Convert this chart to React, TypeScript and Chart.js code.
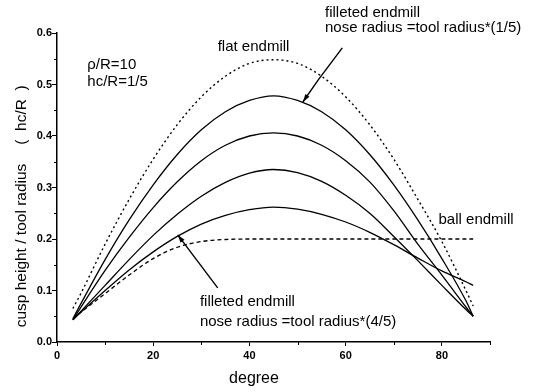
import React, { useEffect, useRef } from 'react';
import { Chart, registerables } from 'chart.js';

Chart.register(...registerables);

// ---- data ----
const degrees = [3.3, 5, 10, 15, 20, 25, 30, 35, 40, 45, 50, 55, 60, 65, 70, 75, 80, 85, 86.5];
const flatEndmill = [0.065, 0.095, 0.19, 0.277, 0.355, 0.422, 0.476, 0.516, 0.541, 0.548, 0.541, 0.516, 0.476, 0.422, 0.355, 0.277, 0.195, 0.1, 0.07];
const filleted1of5 = [0.045, 0.075, 0.16, 0.237, 0.305, 0.364, 0.412, 0.447, 0.469, 0.478, 0.469, 0.447, 0.412, 0.364, 0.305, 0.237, 0.162, 0.08, 0.05];
const filleted2of5 = [0.043, 0.068, 0.139, 0.203, 0.261, 0.311, 0.352, 0.382, 0.4, 0.406, 0.4, 0.382, 0.352, 0.311, 0.255, 0.19, 0.13, 0.068, 0.05];
const filleted3of5 = [0.043, 0.06, 0.11, 0.16, 0.207, 0.248, 0.283, 0.31, 0.328, 0.335, 0.329, 0.312, 0.285, 0.25, 0.205, 0.158, 0.11, 0.063, 0.05];
const filleted4of5 = [0.043, 0.058, 0.1, 0.14, 0.175, 0.205, 0.229, 0.246, 0.257, 0.262, 0.258, 0.248, 0.233, 0.213, 0.189, 0.163, 0.138, 0.117, 0.11];
const ballEndmill = [0.045, 0.058, 0.094, 0.13, 0.162, 0.184, 0.195, 0.199, 0.2, 0.2, 0.2, 0.2, 0.2, 0.2, 0.2, 0.2, 0.2, 0.2, 0.2];

const xTicks = [0, 20, 40, 60, 80];
const yTicks = [0, 0.1, 0.2, 0.3, 0.4, 0.5, 0.6];
const xMinorTicks = [10, 30, 50, 70, 90];
const yMinorTicks = [0.05, 0.15, 0.25, 0.35, 0.45, 0.55];

const xTitle = 'degree';
const yTitleMain = 'cusp height / tool radius';
const yTitleSub = '(  hc/R  )';

const noteLabels = [
  'ρ/R=10',
  'hc/R=1/5',
  'flat endmill',
  'filleted endmill',
  'nose radius =tool radius*(1/5)',
  'ball endmill',
  'filleted endmill',
  'nose radius =tool radius*(4/5)',
];
const noteX = [6.3, 6.3, 33.4, 55.7, 55.7, 79.3, 29.7, 29.7];
const noteY = [0.538, 0.505, 0.573, 0.639, 0.61, 0.237, 0.078, 0.039];

const arrowTop = [[59.3, 0.571], [54.3, 0.509], [51.1, 0.466]];
const arrowBottom = [[33.4, 0.105], [25.1, 0.208]];

const FONT = '"Liberation Sans", Arial, Helvetica, sans-serif';

const toPoints = (ys: number[]) => degrees.map((x, i) => ({ x, y: ys[i] }));

const annotationPlugin = {
  id: 'annotations',
  afterDraw(chart: any) {
    const { ctx, chartArea } = chart;
    const xs = chart.scales.x;
    const ys = chart.scales.y;
    ctx.save();
    ctx.strokeStyle = '#000';
    ctx.fillStyle = '#000';
    ctx.lineWidth = 1;

    // minor ticks
    yMinorTicks.forEach((v) => {
      const py = Math.round(ys.getPixelForValue(v)) + 0.5;
      ctx.beginPath();
      ctx.moveTo(chartArea.left - 3, py);
      ctx.lineTo(chartArea.left, py);
      ctx.stroke();
    });
    xMinorTicks.forEach((v) => {
      const px = Math.round(xs.getPixelForValue(v)) + 0.5;
      ctx.beginPath();
      ctx.moveTo(px, chartArea.bottom);
      ctx.lineTo(px, chartArea.bottom + 3);
      ctx.stroke();
    });

    // notes
    ctx.font = `15px ${FONT}`;
    ctx.textAlign = 'left';
    ctx.textBaseline = 'middle';
    noteLabels.forEach((t, i) => {
      ctx.fillText(t, xs.getPixelForValue(noteX[i]), ys.getPixelForValue(noteY[i]));
    });

    // arrows
    const drawArrow = (pts: number[][]) => {
      const p = pts.map(([a, b]) => [xs.getPixelForValue(a), ys.getPixelForValue(b)]);
      ctx.lineWidth = 1.4;
      ctx.beginPath();
      ctx.moveTo(p[0][0], p[0][1]);
      for (let i = 1; i < p.length; i++) ctx.lineTo(p[i][0], p[i][1]);
      ctx.stroke();
      const [ex, ey] = p[p.length - 1];
      const [sx, sy] = p[p.length - 2];
      const ang = Math.atan2(ey - sy, ex - sx);
      const len = 8;
      const w = 2.5;
      ctx.beginPath();
      ctx.moveTo(ex, ey);
      ctx.lineTo(ex - len * Math.cos(ang) + w * Math.sin(ang), ey - len * Math.sin(ang) - w * Math.cos(ang));
      ctx.lineTo(ex - len * Math.cos(ang) - w * Math.sin(ang), ey - len * Math.sin(ang) + w * Math.cos(ang));
      ctx.closePath();
      ctx.fill();
    };
    drawArrow(arrowTop);
    drawArrow(arrowBottom);

    // axis titles
    ctx.font = `16px ${FONT}`;
    ctx.textAlign = 'center';
    ctx.fillText(xTitle, chartArea.left + 197, chartArea.bottom + 37);

    ctx.font = `15.5px ${FONT}`;
    ctx.translate(22, 0);
    ctx.rotate(-Math.PI / 2);
    ctx.fillText(yTitleMain, -245.5, 0);
    ctx.fillText(yTitleSub, -115, 0);
    ctx.restore();
  },
};

export default function App() {
  const canvasRef = useRef<HTMLCanvasElement | null>(null);

  useEffect(() => {
    if (!canvasRef.current) return;
    const solid = (data: number[]) => ({
      data: toPoints(data),
      borderColor: '#000',
      borderWidth: 1.3,
      pointRadius: 0,
      fill: false,
      cubicInterpolationMode: 'monotone' as const,
    });
    const chart = new Chart(canvasRef.current, {
      type: 'line',
      data: {
        datasets: [
          { ...solid(flatEndmill), borderDash: [2, 3], borderWidth: 1.4 },
          solid(filleted1of5),
          solid(filleted2of5),
          solid(filleted3of5),
          solid(filleted4of5),
          { ...solid(ballEndmill), borderDash: [4, 3], borderWidth: 1.3 },
        ],
      },
      options: {
        animation: false,
        responsive: false,
        devicePixelRatio: 1,
        layout: { padding: { top: 33, right: 67, left: 0, bottom: 0 } },
        plugins: { legend: { display: false }, tooltip: { enabled: false }, title: { display: false } },
        scales: {
          x: {
            type: 'linear',
            min: 0,
            max: 90,
            afterFit: (s: any) => { s.height = 50; },
            afterBuildTicks: (s: any) => { s.ticks = xTicks.map((v) => ({ value: v })); },
            ticks: { color: '#000', font: { family: FONT, size: 11, weight: 'bold' }, padding: 3, maxRotation: 0 },
            grid: { display: true, drawOnChartArea: false, drawTicks: true, tickLength: 4, color: '#000', lineWidth: 1 },
            border: { display: true, color: '#000', width: 1.5 },
          },
          y: {
            type: 'linear',
            min: 0,
            max: 0.6,
            afterFit: (s: any) => { s.width = 57; },
            afterBuildTicks: (s: any) => { s.ticks = yTicks.map((v) => ({ value: v })); },
            ticks: {
              color: '#000',
              font: { family: FONT, size: 11, weight: 'bold' },
              padding: 0,
              callback: (v: any) => Number(v).toFixed(1),
            },
            grid: { display: true, drawOnChartArea: false, drawTicks: true, tickLength: 5, color: '#000', lineWidth: 1 },
            border: { display: true, color: '#000', width: 1.5 },
          },
        },
      },
      plugins: [annotationPlugin],
    });
    return () => chart.destroy();
  }, []);

  return (
    <div style={{ position: 'fixed', left: 0, top: 0, width: 557, height: 392, background: '#fff' }}>
      <canvas ref={canvasRef} width={557} height={392} style={{ display: 'block' }} />
    </div>
  );
}
